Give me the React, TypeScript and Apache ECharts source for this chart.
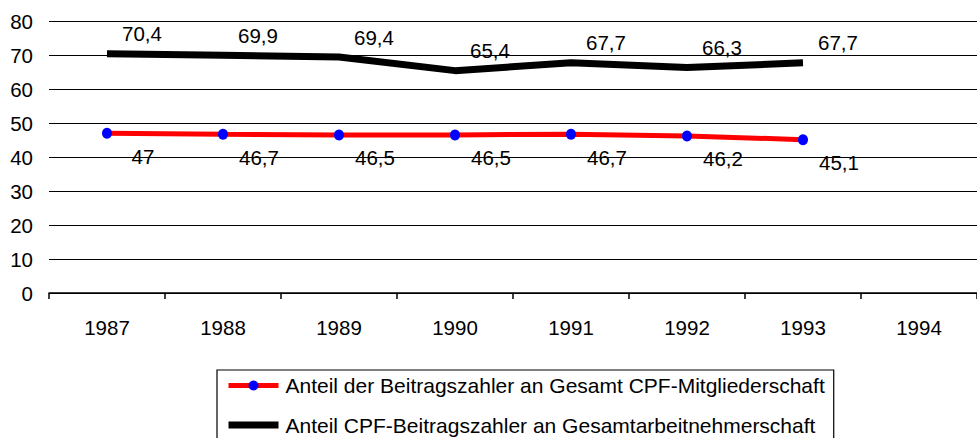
import React, { useEffect, useRef } from "react";
import * as echarts from "echarts";

const years = ["1987", "1988", "1989", "1990", "1991", "1992", "1993", "1994"];
const shareOfMembers = [47, 46.7, 46.5, 46.5, 46.7, 46.2, 45.1, null];
const shareOfWorkforce = [70.4, 69.9, 69.4, 65.4, 67.7, 66.3, 67.7, null];
const nameMembers = "Anteil der Beitragszahler an Gesamt CPF-Mitgliederschaft";
const nameWorkforce = "Anteil CPF-Beitragszahler an Gesamtarbeitnehmerschaft";

const FONT = "'Liberation Sans', Arial, sans-serif";
const FS = 20.5;
const LFS = 21;

const fmt = (p: any) => String(p.value).replace(".", ",");

export default function App() {
  const ref = useRef<HTMLDivElement>(null);
  useEffect(() => {
    document.body.style.margin = "0";
    const chart = echarts.init(ref.current!, null, { renderer: "svg" });
    chart.setOption({
      animation: false,
      textStyle: { fontFamily: FONT, color: "#000" },
      grid: { left: 49, top: 21, bottom: 145, right: -8, containLabel: false },
      xAxis: {
        type: "category",
        data: years,
        boundaryGap: true,
        axisLine: { show: true, lineStyle: { color: "#000", width: 1.5 } },
        axisTick: { show: true, length: 6, lineStyle: { color: "#000", width: 1.5 } },
        axisLabel: { color: "#000", fontSize: FS, fontFamily: FONT, margin: 24 },
        splitLine: { show: false },
      },
      yAxis: {
        type: "value",
        min: 0,
        max: 80,
        interval: 10,
        axisLine: { show: false },
        axisTick: { show: false },
        axisLabel: { color: "#000", fontSize: FS, fontFamily: FONT, margin: 16 },
        splitLine: { show: true, lineStyle: { color: "#000", width: 1.2 } },
      },
      legend: {
        orient: "vertical",
        left: 217,
        top: 370,
        height: 90,
        padding: [5, 9, 8, 8],
        itemGap: 18.5,
        itemWidth: 50,
        itemHeight: 12.5,
        borderColor: "#000",
        borderWidth: 1.2,
        textStyle: { color: "#000", fontSize: LFS, fontFamily: FONT, padding: [0, 0, 0, 2] },
        data: [
          {
            name: nameMembers,
            itemStyle: { color: "#0000ff" },
            lineStyle: { color: "#ff0000", width: 5 },
          },
          {
            name: nameWorkforce,
            itemStyle: { color: "rgba(0,0,0,0)" },
            lineStyle: { color: "#000", width: 7 },
          },
        ],
      },
      series: [
        {
          name: nameMembers,
          type: "line",
          data: shareOfMembers,
          symbol: "circle",
          symbolSize: [10, 11],
          itemStyle: { color: "#0000ff" },
          lineStyle: { color: "#ff0000", width: 5, cap: "butt" },
          label: {
            show: true,
            position: "inside",
            offset: [36, 23],
            color: "#000",
            fontSize: FS,
            fontFamily: FONT,
            formatter: fmt,
          },
          z: 3,
        },
        {
          name: nameWorkforce,
          type: "line",
          data: shareOfWorkforce,
          symbol: "circle",
          symbolSize: 1,
          itemStyle: { color: "rgba(0,0,0,0)" },
          lineStyle: { color: "#000", width: 7, cap: "butt" },
          label: {
            show: true,
            position: "inside",
            offset: [35, -20],
            color: "#000",
            fontSize: FS,
            fontFamily: FONT,
            formatter: fmt,
          },
          z: 2,
        },
      ],
    });
    return () => chart.dispose();
  }, []);
  return <div ref={ref} style={{ width: 977, height: 438 }} />;
}
